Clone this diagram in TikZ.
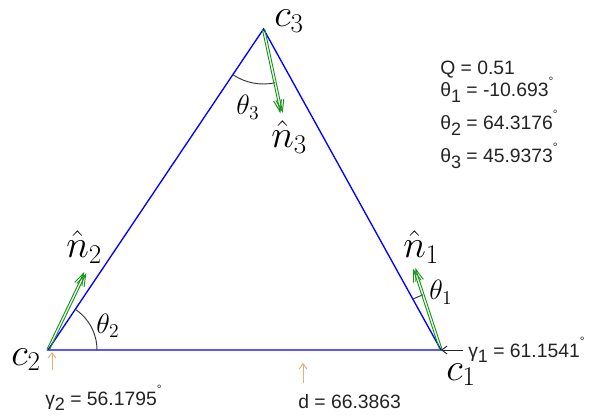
\RequirePackage{fix-cm}
\documentclass[tikz,border=0pt]{standalone}
\usepackage{fontspec}
\newfontfamily\lsans{Liberation Sans}
\usetikzlibrary{arrows.meta,calc}
\definecolor{vecgreen}{RGB}{20,150,20}
\definecolor{tanarrow}{RGB}{225,175,110}
\definecolor{txt}{RGB}{35,35,35}
\newcommand\lsub[1]{\raisebox{-0.5ex}{\fontsize{13.5}{13.5}\selectfont #1}}
\newcommand\dg{\raisebox{1.1ex}{\fontsize{9}{9}\selectfont °}}
\begin{document}
\begin{tikzpicture}[x=0.75pt,y=0.75pt,
  edge/.style={draw=blue, line width=1pt},
  nvec/.style={draw=vecgreen, line width=0.7pt, -{Straight Barb[length=9pt,width=6pt]}},
  anglearc/.style={draw=black!80, line width=0.7pt},
  mlab/.style={anchor=base west, inner sep=0pt, font=\fontsize{29}{29}\selectfont},
  tlab/.style={anchor=base west, inner sep=0pt, font=\fontsize{21}{21}\selectfont},
  stext/.style={anchor=base west, inner sep=0pt, text=txt, font=\lsans\fontsize{14.5}{17}\selectfont},
  tanarr/.style={draw=tanarrow, line width=0.7pt, -{Straight Barb[length=4pt,width=6pt]}},
  blkarr/.style={draw=black!85, line width=0.7pt, -{Straight Barb[length=4pt,width=6pt]}}]
\useasboundingbox (0,0) rectangle (608,415);
% vertices
\coordinate (c1) at (441,65);
\coordinate (c2) at (48,65);
\coordinate (c3) at (263.5,386);
% normal tips
\coordinate (n1t) at ($(c1)+(108.16:86)$);
\coordinate (n2t) at ($(c2)+(64.32:86)$);
\coordinate (n3t) at ($(c3)+(-77.88:86)$);
% triangle
\draw[edge] (c2) -- (c1) -- (c3) -- cycle;
% angle arcs
\draw[anglearc] ([shift={(0:49)}]c2) arc[start angle=0, end angle=56.18, radius=49];
\draw[anglearc] ([shift={(108.16:58)}]c1) arc[start angle=108.16, end angle=118.85, radius=58];
\draw[anglearc] ([shift={(-123.82:55)}]c3) arc[start angle=-123.82, end angle=-77.88, radius=55];
% normals (drawn doubled)
\foreach \v/\t/\a in {c1/n1t/108.16, c2/n2t/64.32, c3/n3t/-77.88}{
  \draw[nvec] ([shift={(\a+90:1.2)}]\v) -- ([shift={(\a+90:1.2)}]\t);
  \draw[nvec] ([shift={(\a-90:1.2)}]\v) -- ([shift={(\a-90:1.2)}]\t);
}
% math labels
\node[mlab] (lc3) at (274,388) {$c_3$};
\node[mlab] (lc2) at (11,50) {$c_2$};
\node[mlab] (lc1) at (446,35) {$c_1$};
\node[mlab] (ln1) at (403,157) {$\hat{n}_1$};
\node[mlab] (ln2) at (66,157) {$\hat{n}_2$};
\node[mlab] (ln3) at (271,267) {$\hat{n}_3$};
\node[tlab] (lt1) at (429,115) {$\theta_1$};
\node[tlab] (lt2) at (96,82) {$\theta_2$};
\node[tlab] (lt3) at (236,300) {$\theta_3$};
% info block
\node[stext] (q) at (440,340) {Q = 0.51};
\node[stext] (th1) at (440,318) {θ\lsub{1} = -10.693\dg};
\node[stext] (th2) at (440,285) {θ\lsub{2} = 64.3176\dg};
\node[stext] (th3) at (440,252) {θ\lsub{3} = 45.9373\dg};
% gamma / d annotations
\coordinate (g2a) at (52,45);
\coordinate (g2b) at (52,63);
\draw[tanarr] (g2a) -- (g2b);
\node[stext] (g2) at (45,10) {γ\lsub{2} = 56.1795\dg};
\coordinate (da) at (303,32);
\coordinate (db) at (303,52);
\draw[tanarr] (da) -- (db);
\node[stext] (dl) at (298,7) {d = 66.3863};
\coordinate (g1a) at (463,65);
\draw[blkarr] (g1a) -- (c1);
\node[stext] (g1) at (468,58) {γ\lsub{1} = 61.1541\dg};
\end{tikzpicture}
\end{document}
